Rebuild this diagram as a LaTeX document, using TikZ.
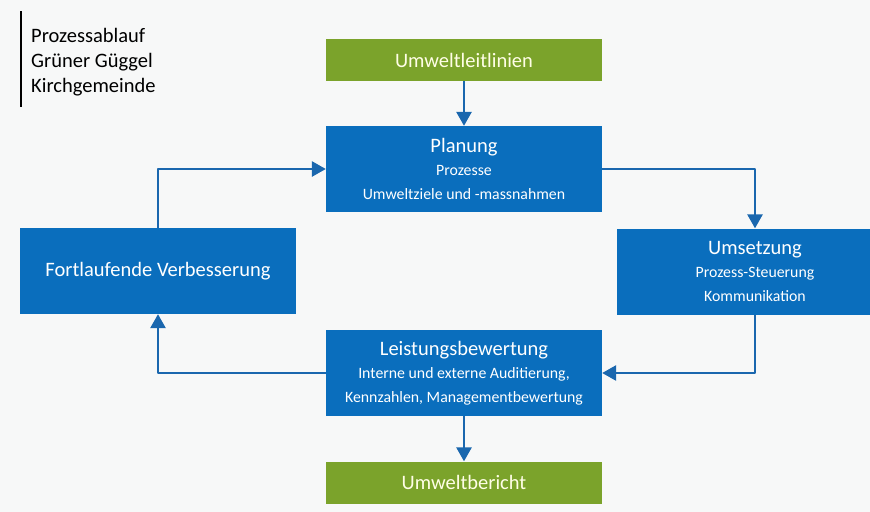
\documentclass[tikz,border=0pt]{standalone}
\usepackage{fontspec}
\setmainfont{Carlito}
\usetikzlibrary{arrows.meta}

\definecolor{ablau}{HTML}{0A6EBD}
\definecolor{agruen}{HTML}{7BA32B}
\definecolor{pfeil}{HTML}{1A67AE}
\definecolor{papier}{HTML}{F7F8F8}

\newcommand{\kopf}{\fontsize{17.5}{20}\selectfont}
\newcommand{\unter}{\fontsize{13.5}{20.5}\selectfont}

\tikzset{
  bluebox/.style={fill=ablau, text=white, minimum width=82.8mm, minimum height=25.8mm, align=center, inner sep=0pt, font=\unter},
  greenbox/.style={fill=agruen, text=yellow!10!white, minimum width=82.8mm, minimum height=12.6mm, font=\kopf, inner sep=0pt},
  flow/.style={draw=pfeil, line width=1.6pt, -{Triangle[length=4.2mm, width=4.6mm]}}
}

\begin{document}
\begin{tikzpicture}[x=0.3mm, y=-0.3mm, line join=round]
    \useasboundingbox (0,0) rectangle (870,512);
    \clip (0,0) rectangle (870,512);
    \fill[papier] (0,0) rectangle (870,512);

    % Titel oben links
    \draw[line width=0.9pt] (21,11) -- (21,107);
    \node[anchor=north west, align=left, inner sep=0pt, font=\fontsize{17.5}{21.3}\selectfont] (titel) at (31,28)
        {Prozessablauf\\ Grüner Güggel\\ Kirchgemeinde};

    % Kaesten
    \node[greenbox] (leitlinien) at (464,60) {Umweltleitlinien};
    \node[bluebox] (planung) at (464,169)
        {{\kopf Planung}\\[-1pt] Prozesse\\ Umweltziele und -massnahmen};
    \node[bluebox] (umsetzung) at (755,271.5)
        {{\kopf Umsetzung}\\[-1pt] Prozess-Steuerung\\ Kommunikation};
    \node[bluebox, font=\kopf] (verbesserung) at (158,271) {Fortlaufende Verbesserung};
    \node[bluebox] (bewertung) at (464,373)
        {{\kopf Leistungsbewertung}\\[-1pt] Interne und externe Auditierung,\\ Kennzahlen, Managementbewertung};
    \node[greenbox] (bericht) at (464,482.5) {Umweltbericht};

    % Kreislauf
    \draw[flow] (leitlinien) -- (planung);
    \draw[flow] (planung.east) -| (umsetzung.north);
    \draw[flow] (umsetzung.south) |- (bewertung.east);
    \draw[flow] (bewertung.west) -| (verbesserung.south);
    \draw[flow] (verbesserung.north) |- (planung.west);
    \draw[flow] (bewertung) -- (bericht);
\end{tikzpicture}
\end{document}
